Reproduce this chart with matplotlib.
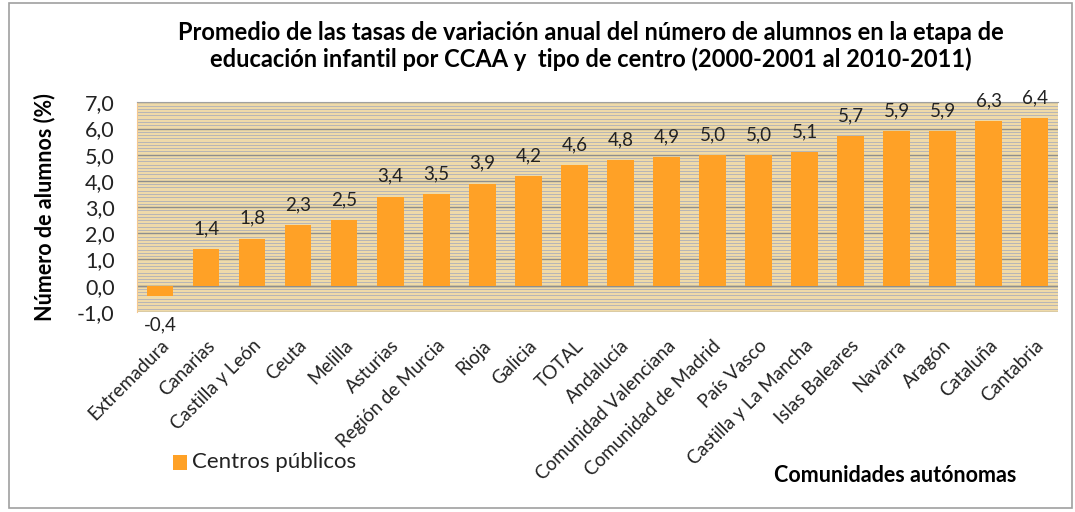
import matplotlib.pyplot as plt
import numpy as np
from matplotlib.patches import Rectangle

plt.rcParams['font.family'] = ['Lato', 'DejaVu Sans']

regions = ["Extremadura", "Canarias", "Castilla y León", "Ceuta", "Melilla",
           "Asturias", "Región de Murcia", "Rioja", "Galicia", "TOTAL",
           "Andalucía", "Comunidad Valenciana", "Comunidad de Madrid",
           "País Vasco", "Castilla y La Mancha", "Islas Baleares", "Navarra",
           "Aragón", "Cataluña", "Cantabria"]
values = [-0.4, 1.4, 1.8, 2.3, 2.5, 3.4, 3.5, 3.9, 4.2, 4.6,
          4.8, 4.9, 5.0, 5.0, 5.1, 5.7, 5.9, 5.9, 6.3, 6.4]
y_ticks = [-1, 0, 1, 2, 3, 4, 5, 6, 7]

orange = "#FFA126"
dark = "#222222"

fig = plt.figure(figsize=(10.75, 5.12), dpi=100)
# outer frame
fig.patches.append(Rectangle((0.0085, 0.008), 0.989, 0.986, transform=fig.transFigure,
                             fill=False, edgecolor="#A0A0A0", linewidth=1.2))

ax = fig.add_axes([0.1274, 0.391, 0.8566, 0.409])
ax.set_facecolor("#EFDAA9")

x = np.arange(len(regions))
ax.bar(x, values, width=0.58, color=orange, zorder=3)

for xi, v in zip(x, values):
    txt = f"{v:.1f}".replace(".", ",")
    if v >= 0:
        ax.text(xi, v + 0.45, txt, ha="center", va="bottom", fontsize=13.5, color=dark)
    else:
        ax.text(xi, -1.5, txt, ha="center", va="center", fontsize=13.5, color=dark,
                clip_on=False)

ax.set_xlim(-0.5, len(regions) - 0.5)
ax.set_ylim(-1, 7)
ax.set_yticks(y_ticks)
ax.set_yticklabels([f"{t:.1f}".replace(".", ",") for t in y_ticks], fontsize=15.5, color=dark)
ax.set_yticks(np.arange(-1, 7.01, 0.125), minor=True)
ax.yaxis.grid(True, which="minor", color="#AEB0B8", linewidth=0.6, zorder=1)
ax.yaxis.grid(True, which="major", color="#8E8E8E", linewidth=1.0, zorder=1)
ax.set_axisbelow(True)
ax.tick_params(axis="both", which="both", length=0)
ax.tick_params(axis="y", pad=16)
ax.axhline(0, color="#8E8E8E", linewidth=1.0, zorder=2)

ax.set_xticks(x)
ax.set_xticklabels(regions, rotation=45, ha="right", rotation_mode="anchor",
                   fontsize=13.5, color=dark)
ax.tick_params(axis="x", pad=18)

for s in ["right", "bottom"]:
    ax.spines[s].set_visible(False)
ax.spines["top"].set_color("#A0A0A0")
ax.spines["left"].set_color("#F5C890")

ax.set_ylabel("Número de alumnos (%)", fontsize=15.5, fontweight="bold", labelpad=16)

fig.text(0.55, 0.91, "Promedio de las tasas de variación anual del número de alumnos en la etapa de\n"
         "educación infantil por CCAA y  tipo de centro (2000-2001 al 2010-2011)",
         ha="center", va="center", fontsize=17, fontweight="bold", linespacing=1.2)

fig.patches.append(Rectangle((0.161, 0.082), 0.013, 0.029, transform=fig.transFigure,
                             facecolor=orange, edgecolor="none"))
fig.text(0.179, 0.098, "Centros públicos", ha="left", va="center", fontsize=16, color=dark)
fig.text(0.833, 0.072, "Comunidades autónomas", ha="center", va="center",
         fontsize=15.5, fontweight="bold")

fig.savefig("out.png", dpi=100)
